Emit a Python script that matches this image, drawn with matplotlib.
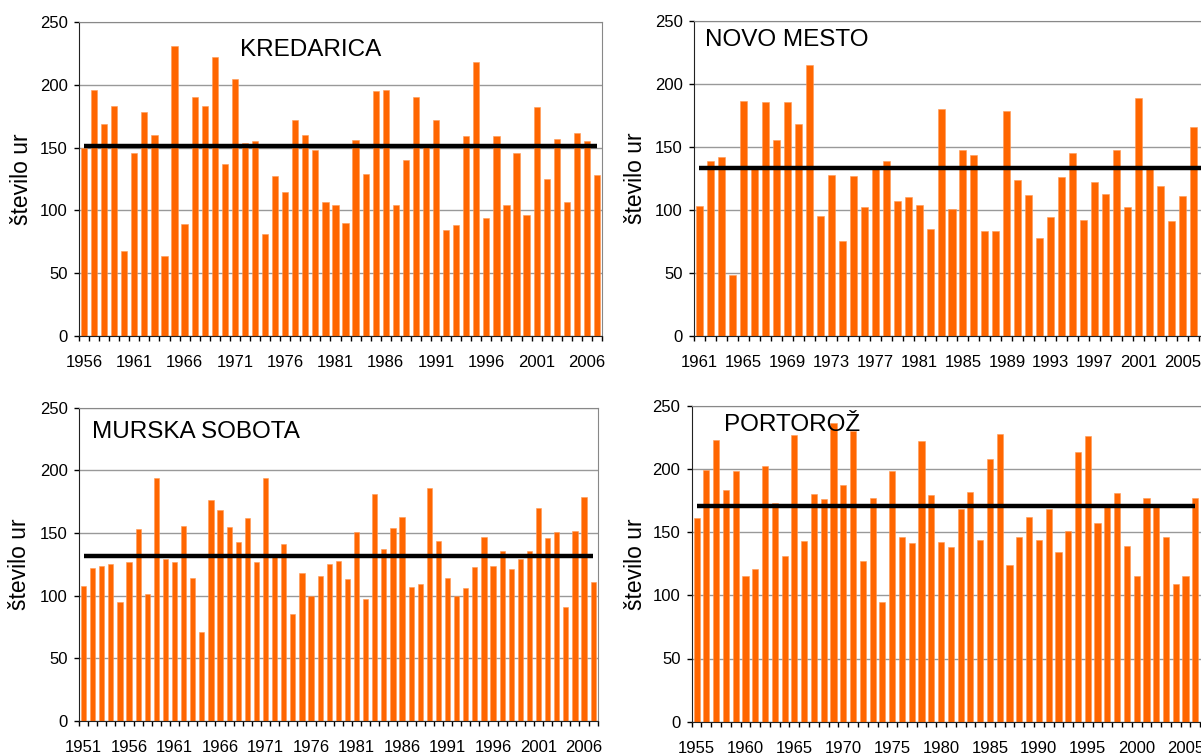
import numpy as np
import matplotlib
matplotlib.use("Agg")
import matplotlib.pyplot as plt

plt.rcParams['font.family'] = ['Liberation Sans', 'DejaVu Sans']

# sončne ure - letne vrednosti
kredarica_years = np.arange(1956, 2008)
kredarica = [150, 196, 169, 183, 68, 146, 178, 160, 64, 231,
             89, 190, 183, 222, 137, 205, 154, 155, 81, 127,
             115, 172, 160, 148, 107, 104, 90, 156, 129, 195,
             196, 104, 140, 190, 151, 172, 84, 88, 159, 218,
             94, 159, 104, 146, 96, 182, 125, 157, 107, 162,
             155, 128]
kredarica_mean = 151

novo_mesto_years = np.arange(1961, 2008)
novo_mesto = [103, 139, 142, 48, 187, 133, 186, 156, 186, 168,
              215, 95, 128, 75, 127, 102, 133, 139, 107, 110,
              104, 85, 180, 101, 148, 144, 83, 83, 179, 124,
              112, 78, 94, 126, 145, 92, 122, 113, 148, 102,
              189, 135, 119, 91, 111, 166, 110]
novo_mesto_mean = 133

murska_years = np.arange(1951, 2008)
murska = [108, 122, 124, 125, 95, 127, 153, 101, 194, 129,
          127, 156, 114, 71, 176, 168, 155, 143, 162, 127,
          194, 131, 141, 85, 118, 100, 116, 125, 128, 113,
          151, 97, 181, 137, 154, 163, 107, 109, 186, 144,
          114, 100, 106, 123, 147, 124, 136, 121, 129, 136,
          170, 146, 151, 91, 152, 179, 111]
murska_mean = 132

portoroz_years = np.arange(1955, 2007)
portoroz = [161, 199, 223, 183, 198, 115, 121, 202, 173, 131,
            227, 143, 180, 176, 236, 187, 230, 127, 177, 95,
            198, 146, 141, 222, 179, 142, 138, 168, 182, 144,
            208, 228, 124, 146, 162, 144, 168, 134, 151, 213,
            226, 157, 170, 181, 139, 115, 177, 172, 146, 109,
            115, 177]
portoroz_mean = 171

W, H = 1201, 755
fig = plt.figure(figsize=(W / 100, H / 100), dpi=100)


def panel(rect, years, values, mean, name, name_xy, step, last_year, width, lab_x):
    ax = fig.add_axes(rect)
    ax.set_axisbelow(True)
    ax.bar(years, values, width=width, color='#FF6600', edgecolor='#FF9955', linewidth=0.4, zorder=2)
    ax.plot([years[0], years[-1]], [mean, mean], color='black', lw=3.2, zorder=3, solid_capstyle='butt')
    ax.set_xlim(years[0] - 0.5, last_year + 0.5)
    ax.set_ylim(0, 250)
    ax.set_yticks(np.arange(0, 251, 50))
    ax.yaxis.grid(True, color='#999999', lw=1)
    ax.set_xticks(years[::step])
    ax.set_xticklabels([str(y) for y in years[::step]])
    ax.set_xticks(np.arange(years[0] - 0.5, last_year + 1.0), minor=True)
    ax.tick_params(axis='x', which='major', length=0, pad=14, labelsize=12)
    ax.tick_params(axis='x', which='minor', length=3.6, width=1, direction='out')
    ax.tick_params(axis='y', length=3.6, width=1, pad=4.5, labelsize=12)
    for s in ['top', 'right']:
        ax.spines[s].set_color('#888888')
    ax.spines['left'].set_color('#222222')
    ax.spines['bottom'].set_color('#222222')
    ax.set_ylabel('število ur', fontsize=16.5, va='center')
    ax.yaxis.set_label_coords(lab_x, 0.5)
    ax.text(name_xy[0], name_xy[1], name, transform=ax.transAxes, fontsize=17.5,
            ha='left', va='center', zorder=4)
    return ax


panel([79 / W, 1 - 336 / H, 523 / W, 314 / H], kredarica_years, kredarica, kredarica_mean,
      'KREDARICA', (0.308, 0.911), 5, 2007, 0.62, -0.109)
panel([694 / W, 1 - 335.7 / H, 516 / W, 314.4 / H], novo_mesto_years, novo_mesto, novo_mesto_mean,
      'NOVO MESTO', (0.021, 0.94), 4, 2007, 0.64, -0.113)
panel([79 / W, 1 - 721 / H, 518.7 / W, 313.3 / H], murska_years, murska, murska_mean,
      'MURSKA SOBOTA', (0.026, 0.921), 5, 2007, 0.58, -0.114)
panel([691.7 / W, 1 - 721.7 / H, 518.3 / W, 316 / H], portoroz_years, portoroz, portoroz_mean,
      'PORTOROŽ', (0.062, 0.939), 5, 2007, 0.63, -0.109)

fig.savefig('out.png', dpi=100)
